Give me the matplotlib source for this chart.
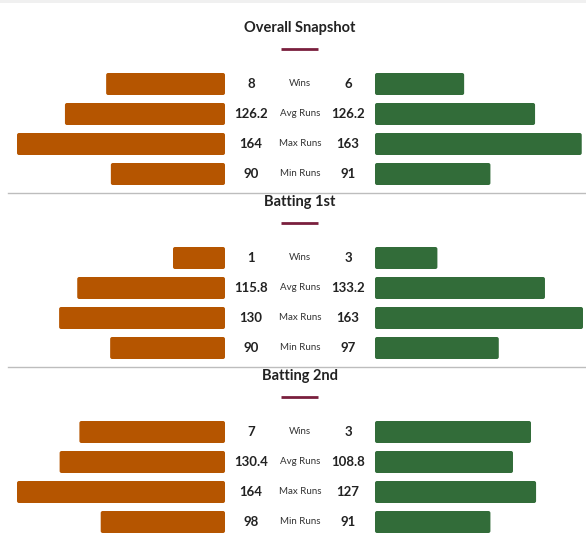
import matplotlib.pyplot as plt
from matplotlib.patches import FancyBboxPatch

sections = ["Overall Snapshot", "Batting 1st", "Batting 2nd"]
metrics = ["Wins", "Avg Runs", "Max Runs", "Min Runs"]
left_vals = [[8, 126.2, 164, 90], [1, 115.8, 130, 90], [7, 130.4, 164, 98]]
right_vals = [[6, 126.2, 163, 91], [3, 133.2, 163, 97], [3, 108.8, 127, 91]]
left_matches = [14, 4, 10]
right_matches = [14, 10, 4]

ORANGE = "#b55500"
GREEN = "#326c39"
MAROON = "#7a1f3d"
TXT = "#222222"

W, H = 586, 543
FULL = 208
LEFT_END, RIGHT_START = 225, 375

plt.rcParams['font.family'] = ['Lato', 'DejaVu Sans']

fig = plt.figure(figsize=(W / 100, H / 100), dpi=100)
ax = fig.add_axes([0, 0, 1, 1])
ax.set_xlim(0, W)
ax.set_ylim(H, 0)
ax.axis("off")

# faint shadow strip at the very top
ax.axhspan(0, 3, color="#f0f0f0", lw=0)


def fmt(v):
    return f"{v:g}"


def bar(x0, y, w, h, color):
    ax.add_patch(FancyBboxPatch((x0, y - h / 2), w, h,
                                boxstyle="round,pad=0,rounding_size=2",
                                fc=color, ec="none"))


title_y = [28, 202, 376]
for s, name in enumerate(sections):
    ty = title_y[s]
    ax.text(300, ty, name, ha="center", va="center", fontsize=10.5,
            fontweight="bold", color=TXT)
    ax.plot([281, 318], [ty + 20.5, ty + 20.5], color=MAROON, lw=2,
            solid_capstyle="butt")
    if s > 0:
        ax.plot([8, W], [ty - 9, ty - 9], color="#bdbdbd", lw=1)

    lv, rv = left_vals[s], right_vals[s]
    run_max = max(lv[1:] + rv[1:])
    for i, m in enumerate(metrics):
        y = ty + 56 + 30 * i
        if i == 0:
            lf = lv[0] / left_matches[s]
            rf = rv[0] / right_matches[s]
        else:
            lf = lv[i] / run_max
            rf = rv[i] / run_max
        bar(LEFT_END - lf * FULL, y, lf * FULL, 22, ORANGE)
        bar(RIGHT_START, y, rf * FULL, 22, GREEN)
        ax.text(251, y, fmt(lv[i]), ha="center", va="center", fontsize=9.5,
                fontweight="bold", color=TXT)
        ax.text(348, y, fmt(rv[i]), ha="center", va="center", fontsize=9.5,
                fontweight="bold", color=TXT)
        ax.text(300, y, m, ha="center", va="center", fontsize=7,
                color="#333333")

fig.savefig("out.png", dpi=100)
